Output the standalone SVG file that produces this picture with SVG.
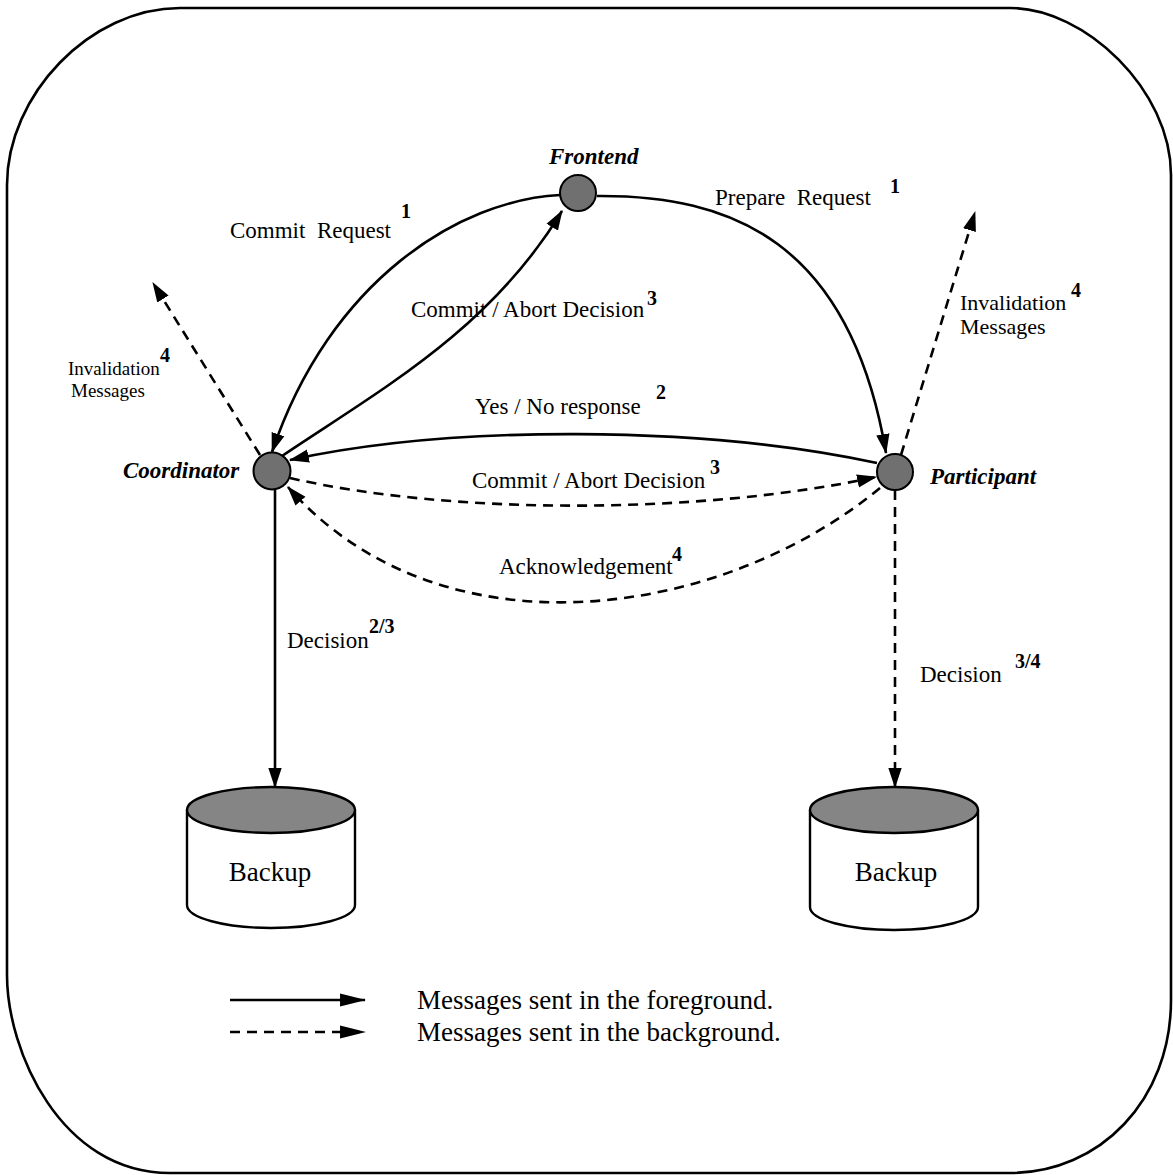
<svg xmlns="http://www.w3.org/2000/svg" width="1173" height="1175" viewBox="0 0 1173 1175">
<style>
text{font-family:"Liberation Serif","Times New Roman",serif;fill:#000}
.lbl{font-size:23px;white-space:pre}
.inv{font-size:22px}
.small{font-size:19px}
.big{font-size:27px}
.bk{font-size:27px}
.sup{font-size:20px;font-weight:bold}
.node{font-size:23px;font-weight:bold;font-style:italic}
.fg{fill:none;stroke:#000;stroke-width:2.6}
.bg{fill:none;stroke:#000;stroke-width:2.6;stroke-dasharray:10 7}
.dot{fill:#707070;stroke:#000;stroke-width:2}
.cyl{fill:#fff;stroke:#000;stroke-width:2.4}
.top{fill:#858585;stroke:#000;stroke-width:2.4}
</style>
<defs>
<marker id="ah" markerUnits="userSpaceOnUse" markerWidth="20" markerHeight="14" viewBox="0 0 18 12" refX="17" refY="6" orient="auto">
<path d="M0 0 L18 6 L0 12 Z" fill="#000"/>
</marker>
<marker id="ahl" markerUnits="userSpaceOnUse" markerWidth="26" markerHeight="14" viewBox="0 0 24 12" refX="23" refY="6" orient="auto">
<path d="M0 0 L24 6 L0 12 Z" fill="#000"/>
</marker>
</defs>
<rect width="1173" height="1175" fill="#fff"/>
<path id="frame" d="M 180 8 L 1010 8 C 1085 8 1171 90 1171 175 L 1171 1000 C 1171 1100 1100 1173 1010 1173 L 170 1173 C 60 1173 7 1050 7 975 L 7 185 C 7 95 90 8 180 8 Z" fill="none" stroke="#000" stroke-width="2.6"/>

<g id="connectors">
<path class="fg" d="M 560 195 C 460 200 330 280 272 452" marker-end="url(#ah)"/>
<path class="fg" d="M 282 456 C 380 390 490 330 562 211" marker-end="url(#ah)"/>
<path class="fg" d="M 597 196 C 730 195 850 240 886 453" marker-end="url(#ah)"/>
<path class="fg" d="M 877 463 C 700 425 450 425 290 460" marker-end="url(#ah)"/>
<path class="bg" d="M 290 478 C 450 515 700 515 876 477" marker-end="url(#ah)"/>
<path class="bg" d="M 880 488 C 720 620 440 660 288 487" marker-end="url(#ah)"/>
<path class="bg" d="M 260 455 L 153 283" marker-end="url(#ah)"/>
<path class="bg" d="M 901 455 L 975 212" marker-end="url(#ah)"/>
<path class="fg" d="M 275 490 L 275 787" marker-end="url(#ah)"/>
<path class="bg" d="M 895 490 L 895 787" marker-end="url(#ah)"/>
</g>

<g id="frontend">
<circle class="dot" cx="578" cy="193" r="18"/>
<text class="node" x="549" y="164">Frontend</text>
</g>
<g id="coordinator">
<circle class="dot" cx="272" cy="471" r="18.5"/>
<text class="node" x="123" y="478">Coordinator</text>
</g>
<g id="participant">
<circle class="dot" cx="895" cy="472" r="18"/>
<text class="node" x="930" y="484">Participant</text>
</g>
<g id="backup-left">
<path class="cyl" d="M 187 810 L 187 905 A 84 23 0 0 0 355 905 L 355 810"/>
<ellipse class="top" cx="271" cy="810" rx="84" ry="23"/>
<text class="bk" x="270" y="881" text-anchor="middle">Backup</text>
</g>
<g id="backup-right">
<path class="cyl" d="M 810 810 L 810 907 A 84 23 0 0 0 978 907 L 978 810"/>
<ellipse class="top" cx="894" cy="810" rx="84" ry="23"/>
<text class="bk" x="896" y="881" text-anchor="middle">Backup</text>
</g>

<g id="labels">
<text class="lbl" x="230" y="238">Commit  Request</text>
<text class="sup" x="401" y="218">1</text>
<text class="lbl" x="411" y="317">Commit / Abort Decision</text>
<text class="sup" x="647" y="305">3</text>
<text class="lbl" x="715" y="205">Prepare  Request</text>
<text class="sup" x="890" y="193">1</text>
<text class="inv" x="960" y="310">Invalidation</text>
<text class="inv" x="960" y="334">Messages</text>
<text class="sup" x="1071" y="297">4</text>
<text class="small" x="68" y="375">Invalidation</text>
<text class="small" x="71" y="397">Messages</text>
<text class="sup" x="160" y="362">4</text>
<text class="lbl" x="475" y="414">Yes / No response</text>
<text class="sup" x="656" y="399">2</text>
<text class="lbl" x="472" y="488">Commit / Abort Decision</text>
<text class="sup" x="710" y="474">3</text>
<text class="lbl" x="499" y="574">Acknowledgement</text>
<text class="sup" x="672" y="561">4</text>
<text class="lbl" x="287" y="648">Decision</text>
<text class="sup" x="369" y="633">2/3</text>
<text class="lbl" x="920" y="682">Decision</text>
<text class="sup" x="1015" y="668">3/4</text>
</g>

<g id="legend">
<path class="fg" d="M 230 1000 L 365 1000" marker-end="url(#ahl)"/>
<path class="bg" d="M 230 1032 L 365 1032" marker-end="url(#ahl)"/>
<text class="big" x="417" y="1009">Messages sent in the foreground.</text>
<text class="big" x="417" y="1041">Messages sent in the background.</text>
</g>
</svg>
